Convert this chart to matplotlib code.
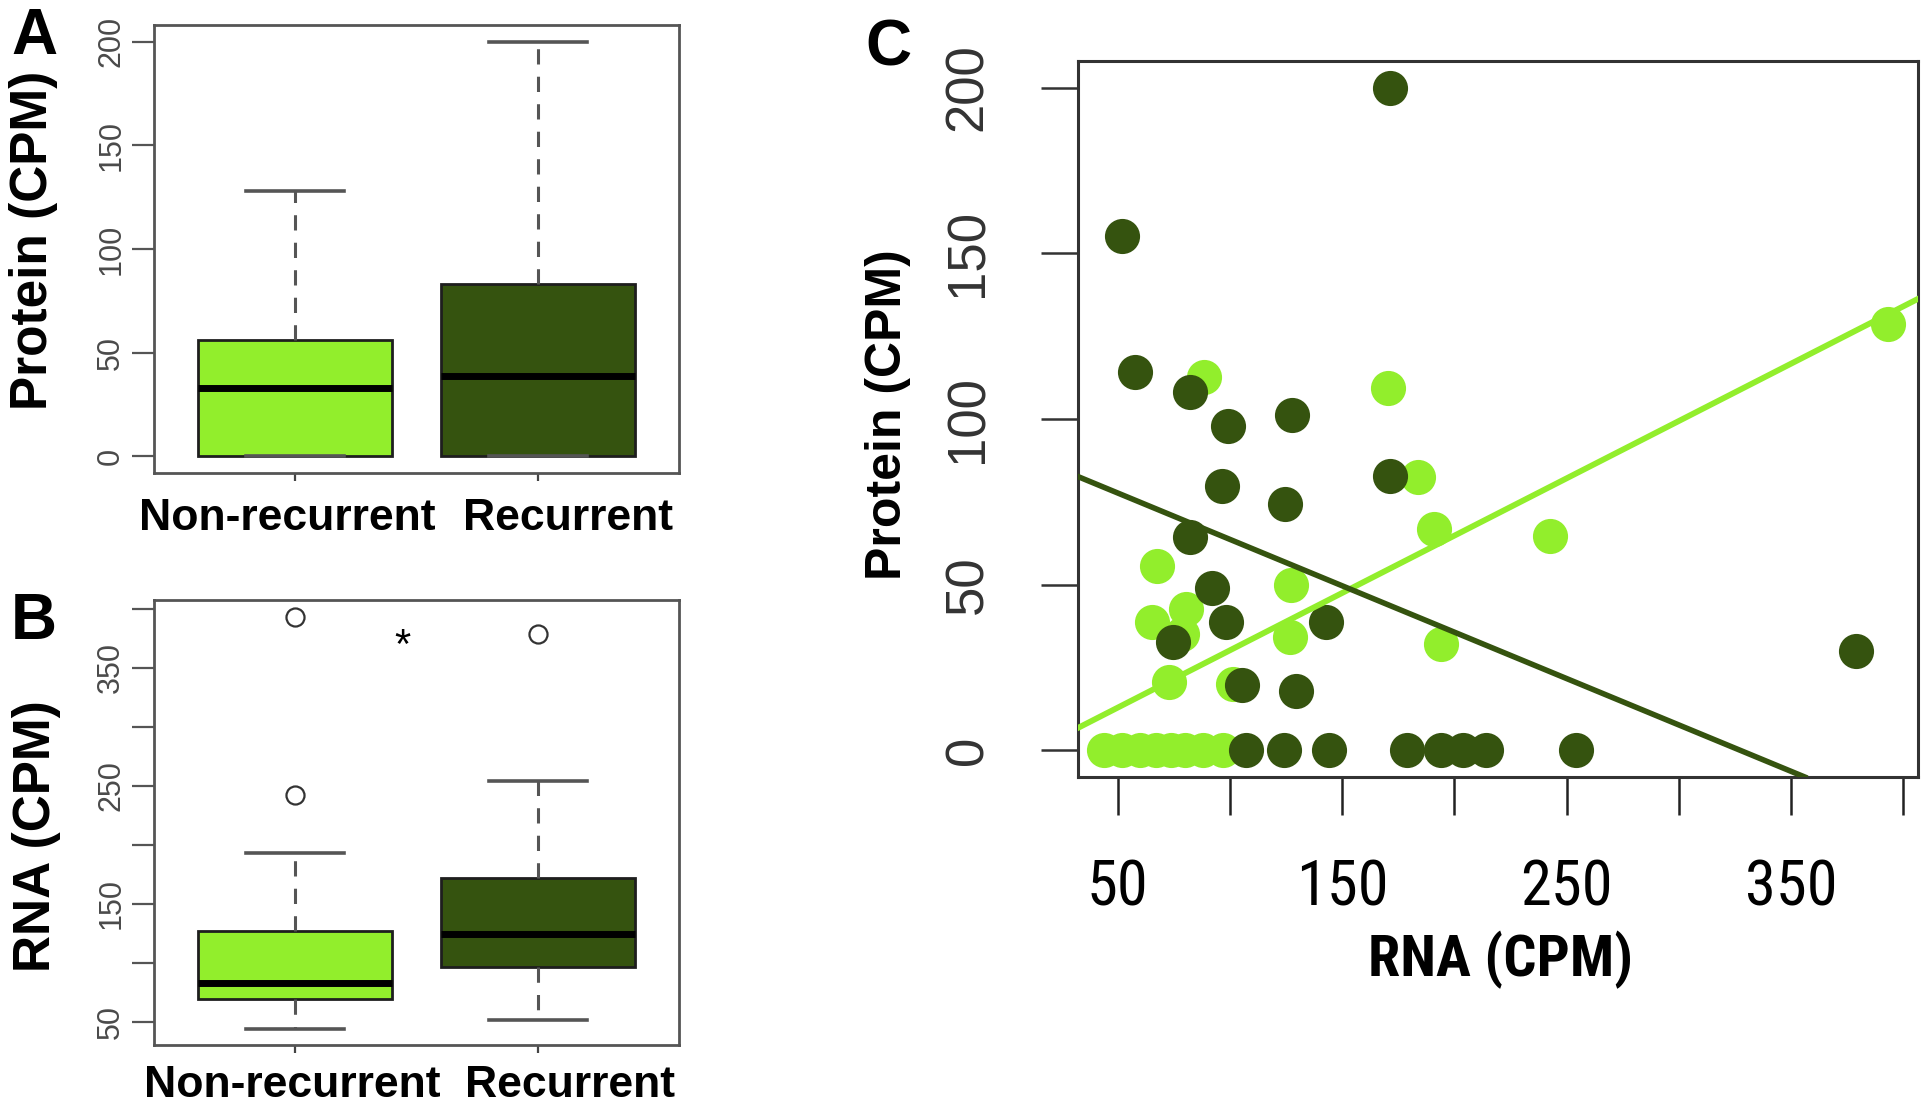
import matplotlib
matplotlib.use("Agg")
import matplotlib.pyplot as plt
from matplotlib import font_manager

# ---------------- data ----------------
groups = ["Non-recurrent", "Recurrent"]
group_colors = ["#92EE2C", "#35530F"]

# Panel A: protein (CPM) box statistics
protein_whislo = [0, 0]
protein_q1 = [0, 0]
protein_med = [33, 39]
protein_q3 = [56, 83]
protein_whishi = [128, 200]
protein_fliers = [[], []]
protein_ticks = [0, 50, 100, 150, 200]
protein_ticklabels = ["0", "50", "100", "150", "200"]

# Panel B: RNA (CPM) box statistics
rna_whislo = [44, 51]
rna_q1 = [69, 96.5]
rna_med = [83, 124.5]
rna_q3 = [127, 172]
rna_whishi = [193, 254]
rna_fliers = [[242, 393.5], [379]]
rna_ticks = [50, 100, 150, 200, 250, 300, 350, 400]
rna_ticklabels = ["50", "", "150", "", "250", "", "350", ""]
signif_text = "*"
signif_x = 1.44
signif_y = 368

# Panel C: scatter RNA vs protein
nonrec_rna = [88.3, 170.5, 67.5, 127.4, 65.4, 80.5, 78.8, 126.6, 73.1, 101.4,
              183.7, 191.1, 242.4, 194.1, 393.2,
              44, 52, 60, 67, 74, 80, 88, 97]
nonrec_protein = [112.6, 109.3, 55.7, 49.9, 38.7, 42.7, 35.1, 34.1, 20.6, 20.1,
                  82.4, 66.8, 64.8, 32.1, 128.7,
                  0, 0, 0, 0, 0, 0, 0, 0]
rec_rna = [57.9, 82.5, 99.1, 127.8, 171.2, 96.6, 124.8, 82.5, 92.1, 98.4,
           74.6, 143.0, 105.4, 129.6, 51.8, 171.3, 378.8,
           107, 124, 144, 179, 194, 204, 214, 254]
rec_protein = [114.1, 108.1, 97.8, 101.2, 82.9, 79.9, 74.4, 64.3, 48.9, 38.9,
               32.6, 38.9, 19.9, 18.0, 155.1, 200.0, 30.1,
               0, 0, 0, 0, 0, 0, 0, 0]
nonrec_fit = (-4.4, 0.346)   # intercept, slope
rec_fit = (91.7, -0.28)
scatter_xticks = [50, 100, 150, 200, 250, 300, 350, 400]
scatter_xticklabels = ["50", "", "150", "", "250", "", "350", ""]
scatter_yticks = [0, 50, 100, 150, 200]
scatter_yticklabels = ["0", "50", "100", "150", "200"]

# ---------------- style ----------------
ttfs = font_manager.fontManager.ttflist
names = {f.name for f in ttfs}


def pick_narrow():
    for p in ["Liberation Sans Narrow", "Arial Narrow", "Nimbus Sans Narrow",
              "Roboto Condensed", "Open Sans Condensed", "Noto Sans Condensed"]:
        if p in names:
            return dict(family=[p, "DejaVu Sans"]), True
    for f in ttfs:
        if f.stretch in ("condensed", "semi-condensed", "extra-condensed") and \
                any(k in f.name for k in ("Liberation", "Roboto", "Open Sans",
                                           "Noto Sans", "DejaVu Sans", "Inter", "Lato")):
            return dict(family=[f.name, "DejaVu Sans"], stretch=f.stretch), True
    return dict(family=["Liberation Sans", "DejaVu Sans"]), False


NARROW_KW, HAS_NARROW = pick_narrow()
plt.rcParams["font.family"] = ["Liberation Sans", "DejaVu Sans"]

W, H = 1928, 1106
fig = plt.figure(figsize=(W / 100, H / 100), dpi=100)
fig.patch.set_facecolor("white")


def fx(px):
    return px / W


def fy(py):
    return 1 - py / H


def box_axes(rect, whislo, q1, med, q3, whishi, fliers, ylim, ticks, ticklabels,
             label_x, label_off):
    ax = fig.add_axes(rect)
    stats = []
    for i in range(len(groups)):
        stats.append(dict(whislo=whislo[i], q1=q1[i], med=med[i], q3=q3[i],
                          whishi=whishi[i], fliers=fliers[i], label=groups[i]))
    bp = ax.bxp(stats, positions=[1, 2], widths=0.8, patch_artist=True,
                showfliers=True, capwidths=0.4,
                boxprops=dict(edgecolor="#1e1e1e", linewidth=2.0),
                medianprops=dict(color="black", linewidth=5, solid_capstyle="butt"),
                whiskerprops=dict(color="#555555", linewidth=2.2, linestyle=(0, (5, 4))),
                capprops=dict(color="#555555", linewidth=2.6),
                flierprops=dict(marker="o", markerfacecolor="none",
                                markeredgecolor="#333333", markersize=13,
                                markeredgewidth=1.6))
    for patch, c in zip(bp["boxes"], group_colors):
        patch.set_facecolor(c)
    ax.set_xlim(0.42, 2.58)
    ax.set_ylim(*ylim)
    ax.set_yticks(ticks, ticklabels, rotation=90, va="center", ha="right",
                  fontsize=22, color="#4a4a4a")
    ax.set_xticks([1, 2], ["", ""])
    for g, lx in zip(groups, label_x):
        ax.text(lx, label_off, g, transform=ax.get_xaxis_transform(), ha="center",
                va="top", fontsize=32, fontweight="bold", color="black")
    ax.tick_params(axis="y", length=16, width=1.6, color="#555555", pad=4)
    ax.tick_params(axis="x", length=6, width=1.6, color="#444444", pad=8)
    for s in ax.spines.values():
        s.set_color("#555555")
        s.set_linewidth(2.0)
    return ax


# Panel A
axA = box_axes([fx(154), fy(473), fx(679 - 154), (473 - 25) / H],
               protein_whislo, protein_q1, protein_med, protein_q3, protein_whishi,
               protein_fliers, (-8, 208), protein_ticks, protein_ticklabels,
               [0.97, 2.125], -0.055)

# Panel B
axB = box_axes([fx(154), fy(1045), fx(679 - 154), (1045 - 600) / H],
               rna_whislo, rna_q1, rna_med, rna_q3, rna_whishi,
               rna_fliers, (30.2, 407.5), rna_ticks, rna_ticklabels,
               [0.99, 2.13], -0.044)
axB.text(signif_x, signif_y, signif_text, fontsize=30, ha="center", va="center",
         color="black")

# Panel C
axC = fig.add_axes([fx(1078), fy(777), fx(1918 - 1078), (777 - 61) / H])
axC.scatter(nonrec_rna, nonrec_protein, s=640, color=group_colors[0],
            linewidths=0, zorder=2)
axC.scatter(rec_rna, rec_protein, s=640, color=group_colors[1],
            linewidths=0, zorder=3)
axC.axline((0, nonrec_fit[0]), slope=nonrec_fit[1], color=group_colors[0],
           linewidth=4.2, zorder=4)
axC.axline((0, rec_fit[0]), slope=rec_fit[1], color=group_colors[1],
           linewidth=4.0, zorder=4)
axC.set_xlim(32.4, 406.5)
axC.set_ylim(-8, 208)
xt_size = 45 if HAS_NARROW else 38
xt_pad = 32 if HAS_NARROW else 35
axC.set_xticks(scatter_xticks, scatter_xticklabels, fontsize=xt_size,
               color="black", **NARROW_KW)
axC.set_yticks(scatter_yticks, scatter_yticklabels, rotation=90, va="center",
               ha="right", fontsize=38, color="#333333")
axC.tick_params(axis="x", length=27, width=1.8, color="#222222", pad=xt_pad)
axC.tick_params(axis="y", length=27, width=1.8, color="#333333", pad=34)
for s in axC.spines.values():
    s.set_color("#333333")
    s.set_linewidth(2.2)

# Axis labels and panel letters
fig.text(fx(34), fy(240), "Protein (CPM)", rotation=90, ha="center", va="center",
         fontsize=37, fontweight="bold")
fig.text(fx(37), fy(836), "RNA (CPM)", rotation=90, ha="center", va="center",
         fontsize=37, fontweight="bold")
fig.text(fx(888), fy(415), "Protein (CPM)", rotation=90, ha="center", va="center",
         fontsize=36, fontweight="bold")
fig.text(fx(1501), fy(960), "RNA (CPM)", ha="center", va="center",
         fontsize=(42 if HAS_NARROW else 35), fontweight="bold", **NARROW_KW)
fig.text(fx(34), fy(37), "A", ha="center", va="center", fontsize=46, fontweight="bold")
fig.text(fx(34), fy(622), "B", ha="center", va="center", fontsize=46, fontweight="bold")
fig.text(fx(888), fy(49), "C", ha="center", va="center", fontsize=46, fontweight="bold")

fig.savefig("out.png", dpi=100, facecolor="white")
